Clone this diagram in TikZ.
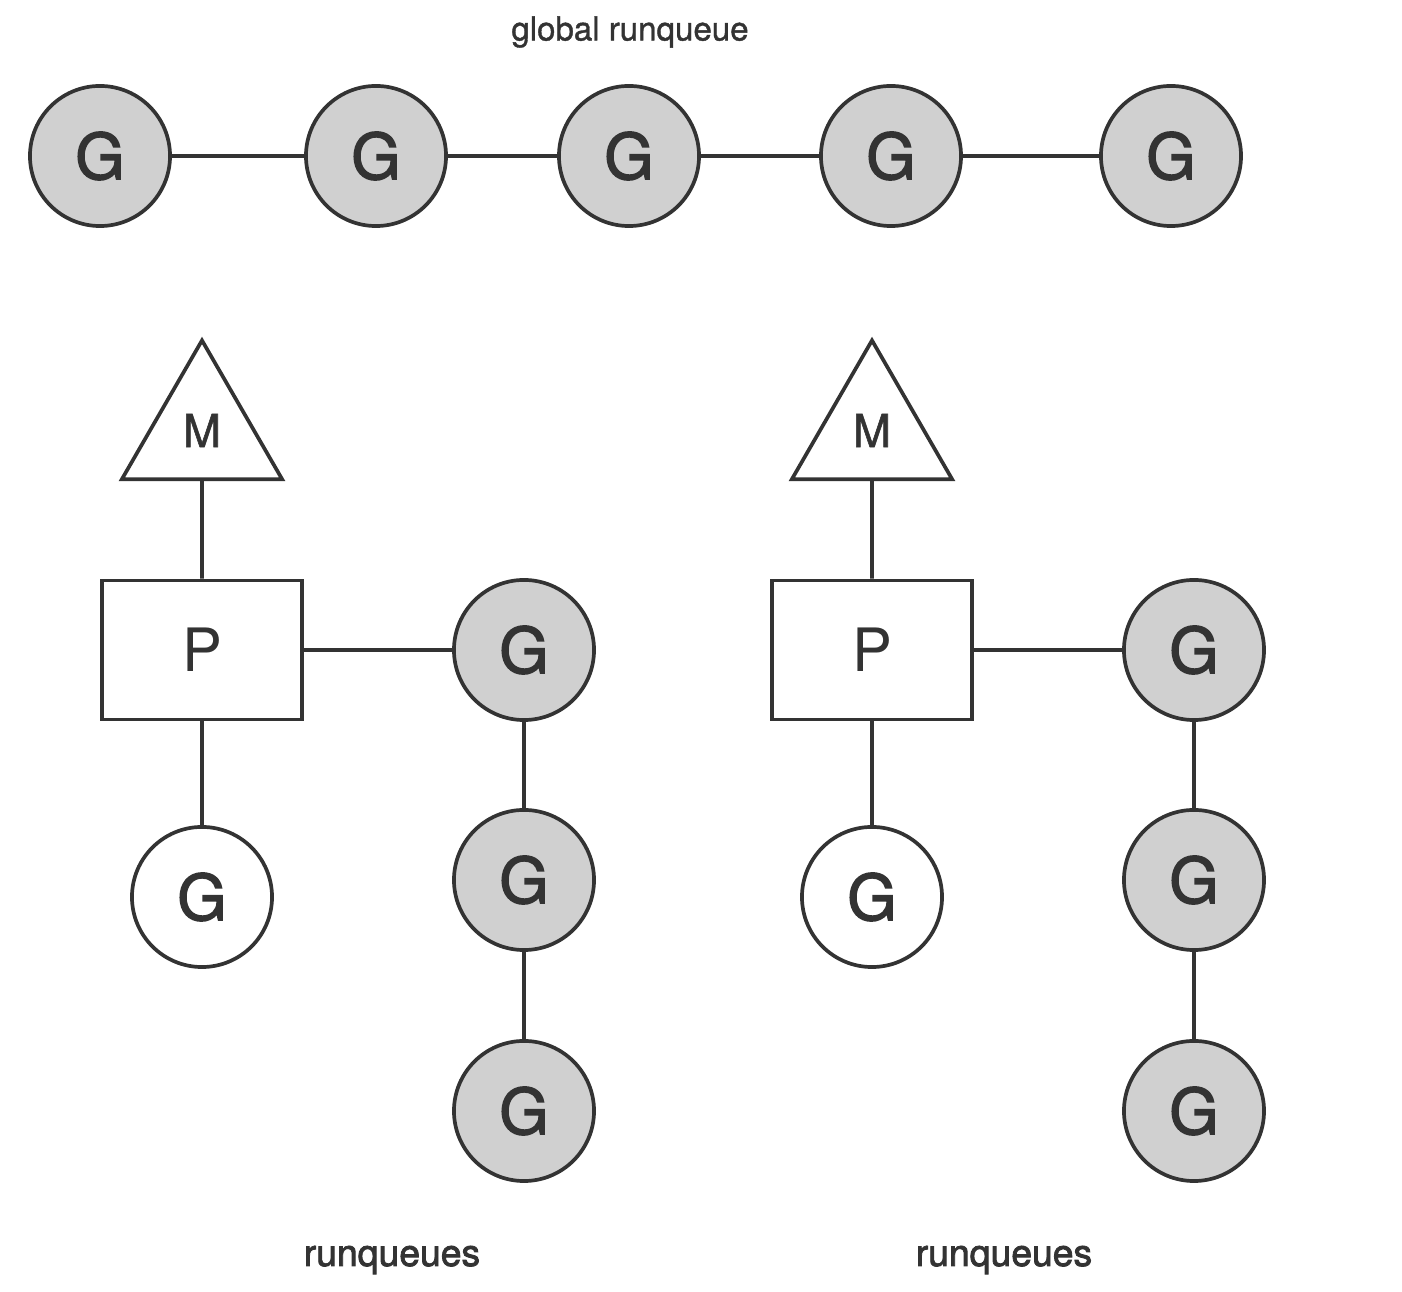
\documentclass[tikz,border=0pt]{standalone}
\usepackage{fontspec}
\setmainfont{TeX Gyre Heros}
\newfontfamily\gfont[FakeBold=2.2]{TeX Gyre Heros}
\newfontfamily\mfont[FakeBold=1.2]{TeX Gyre Heros}
\usetikzlibrary{shapes.geometric}
\definecolor{ink}{HTML}{333333}
\definecolor{gfill}{HTML}{D0D0D0}
\tikzset{
  gnode/.style={circle, draw=ink, line width=1.05pt, fill=gfill, minimum size=1.4cm, inner sep=0pt, text=ink, font=\gfont\fontsize{18}{20}\selectfont},
  gfree/.style={gnode, fill=white},
  mnode/.style={regular polygon, regular polygon sides=3, draw=ink, line width=1.05pt, minimum size=1.85cm, inner sep=0pt, text=ink, font=\mfont\fontsize{13}{15}\selectfont},
  pnode/.style={rectangle, draw=ink, line width=1.05pt, minimum width=2cm, minimum height=1.39cm, text=ink, font=\fontsize{17}{19}\selectfont},
  lbl/.style={text=ink, inner sep=0pt},
  link/.style={draw=ink, line width=1.05pt}
}
\begin{document}
\begin{tikzpicture}[x=0.01cm, y=-0.01cm]
\useasboundingbox (0,0) rectangle (1402,1292);
% global runqueue
\node[lbl, font=\mfont\fontsize{9.4}{11}\selectfont] (glabel) at (630,32){global runqueue};
\node[gnode] (gq0) at (100,156){G};
\node[gnode] (gq1) at (376,156){G};
\node[gnode] (gq2) at (629,156){G};
\node[gnode] (gq3) at (891,156){G};
\node[gnode] (gq4) at (1171,156){G};
\draw[link](gq0) -- (gq1);
\draw[link](gq1) -- (gq2);
\draw[link](gq2) -- (gq3);
\draw[link](gq3) -- (gq4);
% left P
\node[mnode] (m0) at (202,433){\raisebox{1.4pt}{M}};
\node[pnode] (p0) at (202,650){P};
\node[gfree] (run0) at (202,897){G};
\node[gnode] (lq0) at (524,650){G};
\node[gnode] (lq1) at (524,880){G};
\node[gnode] (lq2) at (524,1111){G};
\draw[link](m0) -- (p0);
\draw[link](p0) -- (run0);
\draw[link](p0) -- (lq0);
\draw[link](lq0) -- (lq1);
\draw[link](lq1) -- (lq2);
\node[lbl, font=\gfont\fontsize{10.6}{12}\selectfont] (rlabel0) at (392,1260){runqueues};
% right P
\node[mnode] (m1) at (872,433){\raisebox{1.4pt}{M}};
\node[pnode] (p1) at (872,650){P};
\node[gfree] (run1) at (872,897){G};
\node[gnode] (rq0) at (1194,650){G};
\node[gnode] (rq1) at (1194,880){G};
\node[gnode] (rq2) at (1194,1111){G};
\draw[link](m1) -- (p1);
\draw[link](p1) -- (run1);
\draw[link](p1) -- (rq0);
\draw[link](rq0) -- (rq1);
\draw[link](rq1) -- (rq2);
\node[lbl, font=\gfont\fontsize{10.6}{12}\selectfont] (rlabel1) at (1004,1260){runqueues};
\end{tikzpicture}
\end{document}
